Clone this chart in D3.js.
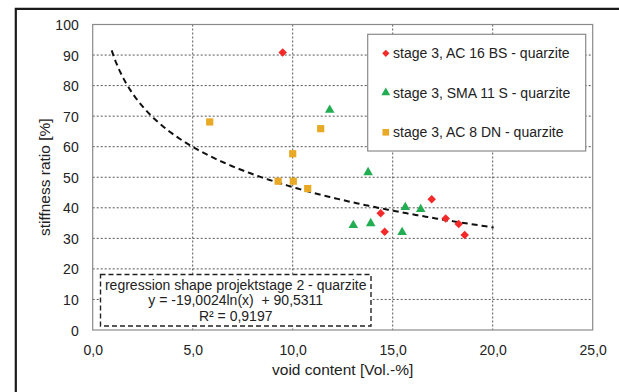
<!DOCTYPE html>
<html><head><meta charset="utf-8">
<script src="https://cdn.jsdelivr.net/npm/d3@7"></script>
<style>body{margin:0;background:#fff}svg{display:block;font-family:"Liberation Sans",Arial,sans-serif}</style>
</head><body><svg id="c" width="619" height="392"></svg>
<script>
const xTicks = [0,5,10,15,20,25];
const yTicks = [0,10,20,30,40,50,60,70,80,90,100];
const seriesNames = ["stage 3, AC 16 BS - quarzite","stage 3, SMA 11 S - quarzite","stage 3, AC 8 DN - quarzite"];
const ac16x = [9.5,14.4,14.6,16.95,17.65,18.3,18.6];
const ac16y = [90.8,38.2,32.2,42.8,36.5,34.7,31.1];
const sma11x = [11.85,13.77,13.03,13.9,15.47,15.63,16.4];
const sma11y = [72.0,51.6,34.3,34.9,32.0,40.2,39.5];
const ac8x = [5.85,10.0,9.27,10.03,10.75,11.4];
const ac8y = [68.1,57.7,48.7,48.7,46.3,65.9];
const regA = -19.0024, regB = 90.5311, regX0 = 0.95, regX1 = 20.1;
const regLines = ["regression shape projektstage 2 - quarzite","y = -19,0024ln(x) \u00a0+ 90,5311","R² = 0,9197"];
const xTitle = "void content [Vol.-%]";
const yTitle = "stiffness ratio [%]";
const colors = ["#f42a2a","#23ad52","#e8aa24"];

const svg = d3.select("#c");
const L=92.7,R=592.7,T=24.5,B=330;
const x = d3.scaleLinear().domain([0,25]).range([L,R]);
const y = d3.scaleLinear().domain([0,100]).range([B,T]);

// outer frame
svg.append("path").attr("d",`M15.8,400 V8.8 H630`).attr("fill","none").attr("stroke","#1a1a1a").attr("stroke-width",2.2);

// grid
const g = svg.append("g");
g.selectAll(".hg").data(yTicks.slice(1,-1)).join("line")
 .attr("x1",L).attr("x2",R).attr("y1",d=>y(d)).attr("y2",d=>y(d))
 .attr("stroke","#555").attr("stroke-width",1).attr("stroke-dasharray","2,2");
g.selectAll(".vg").data(xTicks.slice(1,-1)).join("line")
 .attr("y1",T).attr("y2",B).attr("x1",d=>x(d)).attr("x2",d=>x(d))
 .attr("stroke","#555").attr("stroke-width",1).attr("stroke-dasharray","2,2");
svg.append("rect").attr("x",L).attr("y",T).attr("width",R-L).attr("height",B-T)
 .attr("fill","none").attr("stroke","#8a8a8a").attr("stroke-width",1.2);

// axes labels
const fmt = d => d3.format(".1f")(d).replace(".",",");
const xa = d3.axisBottom(x).tickValues(xTicks).tickSize(0).tickFormat(fmt);
const xg = svg.append("g").attr("transform",`translate(0,${B})`).call(xa);
xg.select(".domain").remove();
xg.selectAll("text").attr("dy",0).attr("y",25).attr("font-size",14).attr("fill","#222").attr("font-family","Liberation Sans, Arial");
const ya = d3.axisLeft(y).tickValues(yTicks).tickSize(0).tickFormat(d3.format("d"));
const yg = svg.append("g").attr("transform",`translate(${L},0)`).call(ya);
yg.select(".domain").remove();
yg.selectAll("text").attr("x",-14).attr("dy","0.36em").attr("font-size",14).attr("fill","#222").attr("font-family","Liberation Sans, Arial");

svg.append("text").attr("x",(L+R)/2).attr("y",375).attr("text-anchor","middle").attr("font-size",15.5).attr("fill","#222").text(xTitle);
svg.append("text").attr("transform",`translate(50,${(T+B)/2}) rotate(-90)`).attr("text-anchor","middle").attr("font-size",15.5).attr("fill","#222").text(yTitle);

// regression curve
const pts = d3.range(regX0, regX1+0.001, 0.1).map(v=>[v, regA*Math.log(v)+regB]);
svg.append("path").datum(pts).attr("d",d3.line().x(d=>x(d[0])).y(d=>y(d[1])))
 .attr("fill","none").attr("stroke","#111").attr("stroke-width",2).attr("stroke-dasharray","6,4");

// markers
const sym = [d3.symbolSquare, d3.symbolTriangle, d3.symbolSquare];
const sizes = [40,40,52];
function drawMarks(xs,ys,i){
  svg.append("g").selectAll("path").data(xs.map((v,k)=>[v,ys[k]])).join("path")
   .attr("d",d3.symbol().type(sym[i]).size(sizes[i]))
   .attr("transform",d=>`translate(${x(d[0])},${y(d[1])})`+(i==0?" rotate(45) scale(0.95)":""))
   .attr("fill",colors[i]);
}
drawMarks(ac16x,ac16y,0);
drawMarks(sma11x,sma11y,1);
drawMarks(ac8x,ac8y,2);

// legend
const lg = svg.append("g");
lg.append("rect").attr("x",367.7).attr("y",34.3).attr("width",218).attr("height",116.7)
 .attr("fill","#fff").attr("stroke","#8a8a8a").attr("stroke-width",1.2);
const rowsY=[53.3,92.7,132.3];
seriesNames.forEach((n,i)=>{
  lg.append("path").attr("d",d3.symbol().type(sym[i]).size(i==0?26:(i==1?34:44)))
   .attr("transform",`translate(385.8,${rowsY[i]})`+(i==0?" rotate(45)":"")).attr("fill",colors[i]);
  lg.append("text").attr("x",393).attr("y",rowsY[i]).attr("dy","0.36em").attr("font-size",14).attr("fill","#222").text(n);
});

// regression annotation box
const ag = svg.append("g");
ag.append("rect").attr("x",100.5).attr("y",274.5).attr("width",270.5).attr("height",51.5)
 .attr("fill","#fff").attr("stroke","#222").attr("stroke-width",1.4).attr("stroke-dasharray","5,3");
regLines.forEach((t,i)=>{
  ag.append("text").attr("x",235.7).attr("y",290+i*15.3).attr("text-anchor","middle").attr("font-size",14).attr("fill","#222").text(t);
});
</script></body></html>
